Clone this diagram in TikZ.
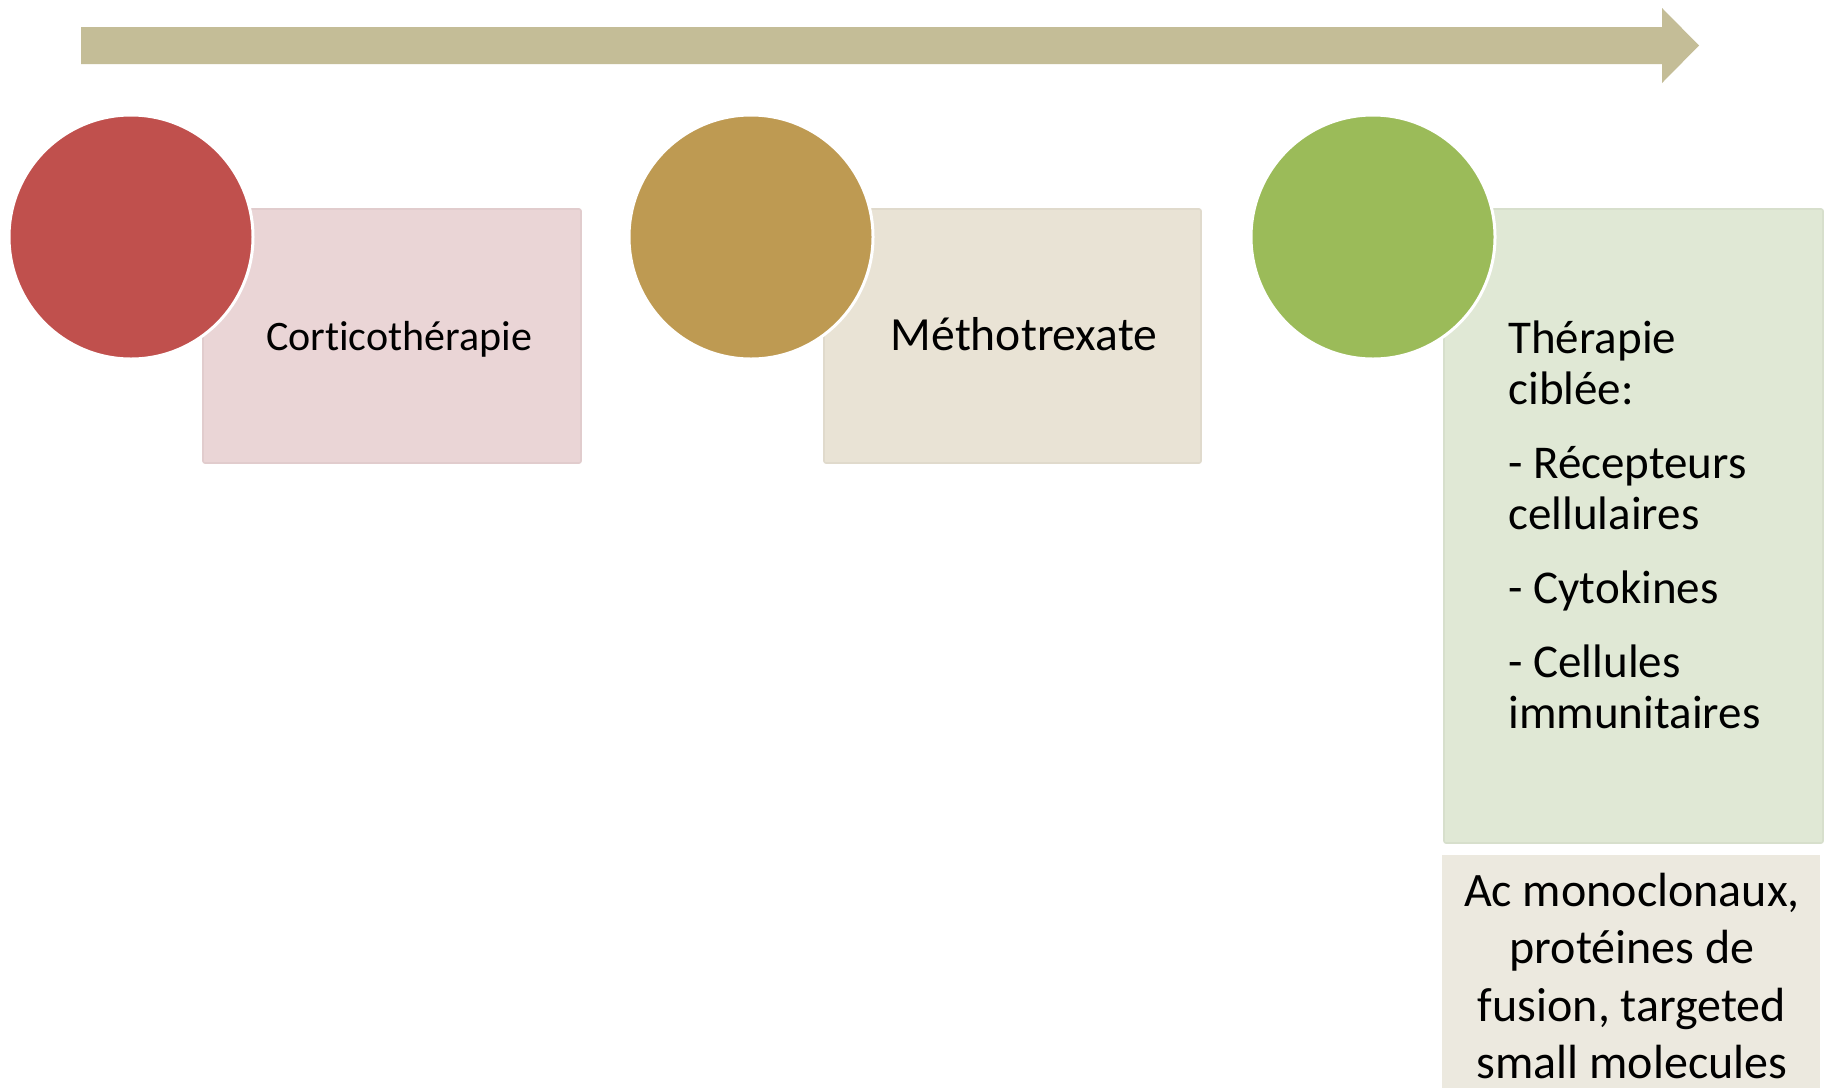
\documentclass[tikz,border=0pt]{standalone}
\usepackage{fontspec}
\setmainfont{Carlito}[Ligatures={NoCommon}]
\definecolor{arrowc}{HTML}{C4BD97}
\definecolor{redc}{HTML}{C0504D}
\definecolor{goldc}{HTML}{BE9A52}
\definecolor{greenc}{HTML}{9BBB59}
\definecolor{pinkbox}{HTML}{EAD5D6}
\definecolor{beigebox}{HTML}{E9E3D5}
\definecolor{greenbox}{HTML}{E0E8D5}
\definecolor{lastbox}{HTML}{ECE9DF}
\tikzset{
  dot/.style={circle, draw=white, line width=1.5pt, minimum size=122pt, inner sep=0pt},
  panel/.style={rectangle, inner sep=0pt, rounded corners=1pt, line width=0.8pt},
  label/.style={inner sep=0pt, text=black}
}
\begin{document}
\begin{tikzpicture}[x=0.5pt,y=-0.5pt]
\useasboundingbox (0,0) rectangle (1825,1088);
\fill[white] (0,0) rectangle (1825,1088);
% timeline arrow
\fill[arrowc] (81,27) -- (1662,27) -- (1662,8) -- (1699,45.5) -- (1662,83) -- (1662,64) -- (81,64) -- cycle;
% panels
\node[panel, fill=pinkbox, draw=pinkbox!96!black, minimum width=189pt, minimum height=127pt] (r1) at (392,336) {};
\node[panel, fill=beigebox, draw=beigebox!96!black, minimum width=188.5pt, minimum height=127pt] (r2) at (1012.5,336) {};
\node[panel, fill=greenbox, draw=greenbox!96!black, minimum width=189.5pt, minimum height=317pt] (r3) at (1633.5,526) {};
\node[rectangle, inner sep=0pt, fill=lastbox, minimum width=189pt, minimum height=116.5pt] (r4) at (1631,971.5) {};
% circles
\node[dot, fill=redc] (c1) at (131,237) {};
\node[dot, fill=goldc] (c2) at (751,237) {};
\node[dot, fill=greenc] (c3) at (1373,237) {};
% texts
\node[label, anchor=base] (t1) at (399,350) {\fontsize{21}{25}\selectfont Corticothérapie};
\node[label, anchor=base] (t2) at (1024,350) {\fontsize{23.8}{28}\selectfont Méthotrexate};
\node[label, anchor=base west] (t3) at (1508,353) {\parbox[t]{155pt}{\fontsize{23.5}{25.5}\selectfont\raggedright\parindent=0pt\parskip=11.5pt
Thérapie\\ciblée:\par
- Récepteurs\\cellulaires\par
- Cytokines\par
- Cellules\\immunitaires}};
\node[label, anchor=base] (t4) at (1632,906) {\parbox[t]{185pt}{\fontsize{24}{28.75}\selectfont\centering
Ac monoclonaux,\\protéines de\\fusion, targeted\\small molecules}};
\end{tikzpicture}
\end{document}
